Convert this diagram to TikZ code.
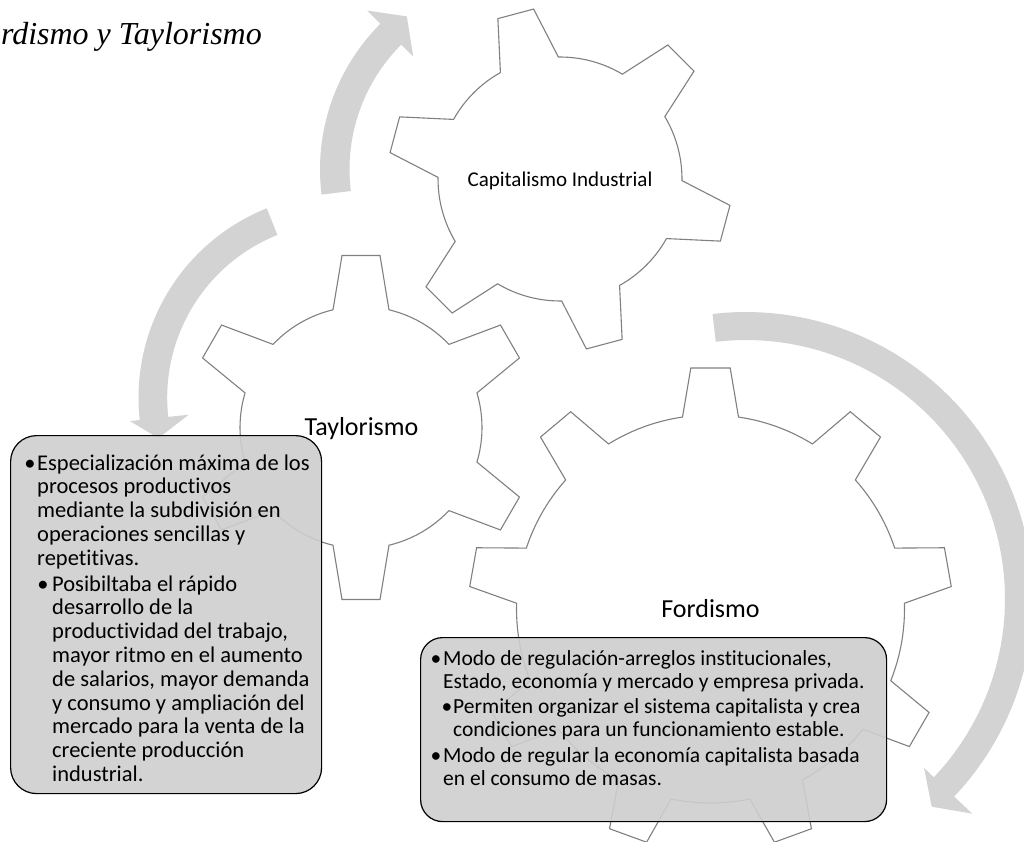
\documentclass[tikz,border=0pt]{standalone}
\usepackage{fontspec}
\setmainfont{Carlito}[Ligatures=NoCommon]
\newfontfamily\headingfont{Liberation Serif}

\definecolor{gearstroke}{RGB}{128,128,128}
\definecolor{arrowfill}{RGB}{211,211,211}
\definecolor{boxfill}{RGB}{206,206,206}

\tikzset{
  gearline/.style={draw=gearstroke, line width=1.1pt, fill=white, line join=miter},
  arrowband/.style={fill=arrowfill},
  notebox/.style={draw=black, line width=1.2pt, fill=boxfill, fill opacity=0.9,
    rounded corners=#1, inner sep=0pt, anchor=north west},
  geartitle/.style={inner sep=0pt, anchor=base, font=\fontsize{#1}{#1}\selectfont},
  tayline/.style={inner sep=0pt, anchor=base west, font=\fontsize{22.5}{24}\selectfont},
  fordline/.style={inner sep=0pt, anchor=base west, font=\fontsize{21.5}{23}\selectfont},
  taydot/.style={inner sep=0pt, anchor=base, font=\fontsize{22.5}{24}\selectfont},
  forddot/.style={inner sep=0pt, anchor=base, font=\fontsize{21.5}{23}\selectfont},
}

% gear outline: centre, teeth, first tooth angle, tip radius, root radius,
% half width of a tooth tip, half width of a tooth root
\newcommand{\gearwheel}[7]{%
  \begin{scope}[shift={#1}]
    \pgfmathsetmacro\gstep{360/#2}
    \pgfmathsetmacro\gtip{atan(#6/#4)}
    \pgfmathsetmacro\gtipr{#4/cos(\gtip)}
    \pgfmathsetmacro\groot{asin(#7/#5)}
    \pgfmathtruncatemacro\glast{#2-1}
    \filldraw[gearline] ({#3-\groot}:#5)
      \foreach \k in {0,...,\glast}{
        -- ({#3+\k*\gstep-\gtip}:\gtipr)
        -- ({#3+\k*\gstep+\gtip}:\gtipr)
        -- ({#3+\k*\gstep+\groot}:#5)
        \foreach \j in {1,...,12}{
          -- ({#3+\k*\gstep+\groot+(\gstep-2*\groot)*\j/12}:#5)}
      } -- cycle;
  \end{scope}}

% curved band with a flat arrow head: centre, inner radius, outer radius,
% start angle, end angle, inner and outer wing radius, tip angle, tip radius
\newcommand{\ringarrow}[9]{%
  \fill[arrowband, shift={#1}] ({#4}:{#3})
    \foreach \j in {1,...,60}{ -- ({(#4)+((#5)-(#4))*\j/60}:{#3}) }
    -- ({#5}:{#7}) -- ({#8}:{#9}) -- ({#5}:{#6})
    \foreach \j in {0,...,60}{ -- ({(#5)-((#5)-(#4))*\j/60}:{#2}) }
    -- cycle;}

\begin{document}
\begin{tikzpicture}[x=1pt, y=-1pt]
  \useasboundingbox (0,0) rectangle (1024,842);
  \clip (0,0) rectangle (1024,842);

  % circular arrows around the gears
  \ringarrow{(526,169.5)}{176.5}{206}{173}{225}{159.5}{224.8}{232.1}{194}
  \ringarrow{(342.5,397.7)}{175.3}{204}{248.2}{173.7}{154.7}{213.7}{167.6}{188.6}
  \ringarrow{(746,599)}{259}{287}{-96.7}{43.5}{245.5}{311.9}{48.2}{278.6}

  % gears
  \gearwheel{(560,179)}{6}{15}{171}{122}{18.5}{30}
  \gearwheel{(361,427.5)}{6}{-90}{172}{121}{19}{28}
  \gearwheel{(710.5,609)}{9}{-90}{241}{194}{19.7}{28}

  % text boxes
  \node[notebox=26, minimum width=311pt, minimum height=358pt] (taybox) at (10,435) {};
  \node[notebox=22, minimum width=466pt, minimum height=184pt] (fordbox) at (420,637) {};

  % gear labels
  \node[geartitle=21] (capital) at (560,187) {Capitalismo Industrial};
  \node[geartitle=26] (taylor) at (361.5,435) {Taylorismo};
  \node[geartitle=26] (ford) at (710.5,617) {Fordismo};

  % Taylorismo notes
  \node[taydot] (tay-dot1) at (30,470) {•};
  \foreach \txt [count=\i from 0] in {{Especialización máxima de los},{procesos productivos},
      {mediante la subdivisión en},{operaciones sencillas y},{repetitivas.}}
    \node[tayline] (tay-a\i) at (37,{470+23.8*\i}) {\txt};
  \node[taydot] (tay-dot2) at (43,591) {•};
  \foreach \txt [count=\i from 0] in {{Posibiltaba el rápido},{desarrollo de la},
      {productividad del trabajo,},{mayor ritmo en el aumento},{de salarios, mayor demanda},
      {y consumo y ampliación del},{mercado para la venta de la},{creciente producción},
      {industrial.}}
    \node[tayline] (tay-b\i) at (52,{591+23.8*\i}) {\txt};

  % Fordismo notes
  \node[forddot] (ford-dot1) at (436,665) {•};
  \node[fordline] (ford-a0) at (443,665) {Modo de regulación-arreglos institucionales,};
  \node[fordline] (ford-a1) at (443,688) {Estado, economía y mercado y empresa privada.};
  \node[forddot] (ford-dot2) at (447,713) {•};
  \node[fordline] (ford-b0) at (453,713) {Permiten organizar el sistema capitalista y crea};
  \node[fordline] (ford-b1) at (453,736) {condiciones para un funcionamiento estable.};
  \node[forddot] (ford-dot3) at (436,762) {•};
  \node[fordline] (ford-c0) at (443,762) {Modo de regular la economía capitalista basada};
  \node[fordline] (ford-c1) at (443,785) {en el consumo de masas.};

  % heading, running past the left edge
  \node[anchor=base east, inner sep=0pt,
        font=\headingfont\itshape\fontsize{32}{32}\selectfont] (heading) at (262,45)
        {Fordismo y Taylorismo};
\end{tikzpicture}
\end{document}
